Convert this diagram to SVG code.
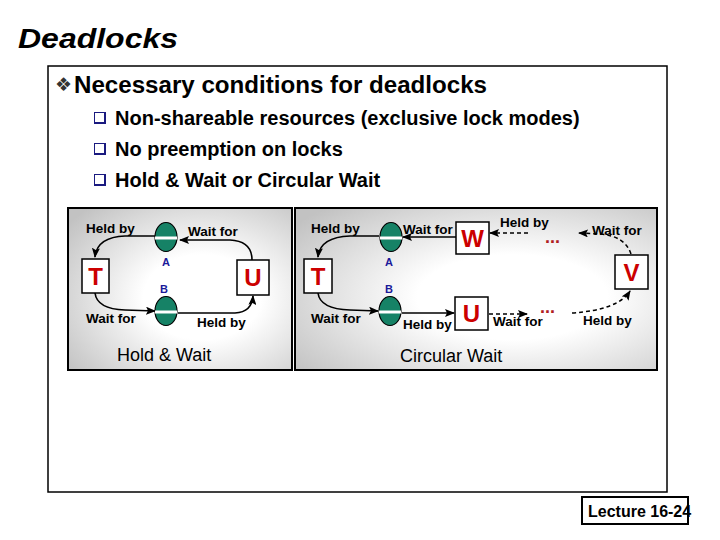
<svg xmlns="http://www.w3.org/2000/svg" width="720" height="540" viewBox="0 0 720 540">
<style>
text{font-family:"Liberation Sans",Arial,sans-serif}
.lbl{font-size:13.5px;font-weight:bold;fill:#000}
.res{font-size:11px;font-weight:bold;fill:#1a1a9a;text-anchor:middle}
.box{fill:#fff;stroke:#000;stroke-width:1.5}
.tx{font-size:24px;font-weight:bold;fill:#cc0000;text-anchor:middle}
.ell{fill:#168266;stroke:#000;stroke-width:1.2}
.band{stroke:#fff;stroke-width:3}
.arr{fill:none;stroke:#000;stroke-width:1.6;marker-end:url(#ah)}
.dash{fill:none;stroke:#000;stroke-width:1.5;stroke-dasharray:4 3;marker-end:url(#ah)}
.dots{font-size:18px;font-weight:bold;fill:#b02020}
.cap{font-size:18px;fill:#000}
.item{font-size:20px;font-weight:bold;fill:#000}
.panel{stroke:#000;stroke-width:2;fill:url(#pg)}
</style>
<defs>
<radialGradient id="pg" cx="0.6" cy="0.55" r="0.75">
<stop offset="0.35" stop-color="#ffffff"/>
<stop offset="1" stop-color="#c2c2c2"/>
</radialGradient>
<marker id="ah" markerUnits="userSpaceOnUse" markerWidth="10" markerHeight="8" refX="9" refY="4" orient="auto">
<path d="M0,0 L10,4 L0,8 L2,4 Z" fill="#000"/>
</marker>
<g id="chk">
<rect x="0" y="0" width="12" height="12" fill="#1a1a80"/>
<rect x="1" y="1" width="9" height="9" fill="#fff"/>
</g>
</defs>
<rect width="720" height="540" fill="#fff"/>
<text x="18" y="48" font-size="28" font-weight="bold" font-style="italic" textLength="160" lengthAdjust="spacingAndGlyphs">Deadlocks</text>
<rect x="48" y="66" width="619" height="426" fill="none" stroke="#000" stroke-width="1.5"/>
<text x="55" y="91" font-size="19" fill="#333" style="font-family:'DejaVu Sans',sans-serif">❖</text>
<text x="74" y="93" font-size="23" font-weight="bold" textLength="413" lengthAdjust="spacingAndGlyphs">Necessary conditions for deadlocks</text>
<use href="#chk" x="94" y="112"/>
<text class="item" x="115" y="125">Non-shareable resources (exclusive lock modes)</text>
<use href="#chk" x="94" y="143"/>
<text class="item" x="115" y="156">No preemption on locks</text>
<use href="#chk" x="94" y="174"/>
<text class="item" x="115" y="187">Hold &amp; Wait or Circular Wait</text>

<rect class="panel" x="68" y="208" width="224" height="162"/>
<rect class="panel" x="295" y="208" width="362" height="162"/>

<g id="connectors">
<path class="arr" d="M155,236 L125,236 Q97,237 95,257"/>
<path class="arr" d="M252,260 Q252,241 230,240 L180,240"/>
<path class="arr" d="M95,293 Q97,309 125,310 L155,311"/>
<path class="arr" d="M178,313 L235,313 Q252,312 253,296"/>
<path class="arr" d="M456,237 L403,237"/>
<path class="arr" d="M379,236 L350,236 Q320,237 318,257"/>
<path class="arr" d="M318,293 Q320,309 350,310 L378,311"/>
<path class="arr" d="M402,313 L454,313"/>
<path class="dash" d="M528,233 L490,233"/>
<path class="dash" d="M631,254 Q625,236 600,234 L579,233"/>
<path class="dash" d="M489,314 L527,314"/>
<path class="dash" d="M572,313 Q618,310 630,291"/>
</g>

<g id="hw-labels">
<text class="lbl" x="86" y="233">Held by</text>
<text class="lbl" x="188" y="236">Wait for</text>
<text class="lbl" x="86" y="323">Wait for</text>
<text class="lbl" x="197" y="327">Held by</text>
<text class="cap" x="117" y="361">Hold &amp; Wait</text>
</g>
<g id="hw-T"><rect class="box" x="82" y="259" width="27" height="34"/><text class="tx" x="95.5" y="285">T</text></g>
<g id="hw-U"><rect class="box" x="237" y="260" width="32" height="35"/><text class="tx" x="253" y="286">U</text></g>
<g id="hw-A"><ellipse class="ell" cx="166" cy="237" rx="11" ry="14.5"/><line class="band" x1="155" y1="238" x2="177" y2="238"/><text class="res" x="166" y="266">A</text></g>
<g id="hw-B"><ellipse class="ell" cx="166" cy="311" rx="11" ry="14.5"/><line class="band" x1="155" y1="312" x2="177" y2="312"/><text class="res" x="164" y="293">B</text></g>

<g id="cw-labels">
<text class="lbl" x="311" y="233">Held by</text>
<text class="lbl" x="403" y="234">Wait for</text>
<text class="lbl" x="500" y="227">Held by</text>
<text class="lbl" x="592" y="235">Wait for</text>
<text class="lbl" x="311" y="323">Wait for</text>
<text class="lbl" x="403" y="329">Held by</text>
<text class="lbl" x="493" y="326">Wait for</text>
<text class="lbl" x="583" y="325">Held by</text>
<text class="dots" x="545" y="243">...</text>
<text class="dots" x="540" y="313">...</text>
<text class="cap" x="400" y="362">Circular Wait</text>
</g>
<g id="cw-T"><rect class="box" x="304" y="259" width="28" height="34"/><text class="tx" x="318" y="285">T</text></g>
<g id="cw-W"><rect class="box" x="456" y="222" width="33" height="32"/><text class="tx" x="472.5" y="247">W</text></g>
<g id="cw-V"><rect class="box" x="615" y="255" width="33" height="34"/><text class="tx" x="631.5" y="281">V</text></g>
<g id="cw-U"><rect class="box" x="455" y="297" width="33" height="33"/><text class="tx" x="471.5" y="322">U</text></g>
<g id="cw-A"><ellipse class="ell" cx="391" cy="237" rx="11" ry="14.5"/><line class="band" x1="380" y1="238" x2="402" y2="238"/><text class="res" x="389" y="266">A</text></g>
<g id="cw-B"><ellipse class="ell" cx="390" cy="311" rx="11" ry="14.5"/><line class="band" x1="379" y1="312" x2="401" y2="312"/><text class="res" x="389" y="293">B</text></g>

<g id="lecture"><rect x="582" y="497" width="106" height="27" fill="#fff" stroke="#000" stroke-width="2"/><text x="588" y="517" font-size="16" font-weight="bold">Lecture 16-24</text></g>
</svg>
